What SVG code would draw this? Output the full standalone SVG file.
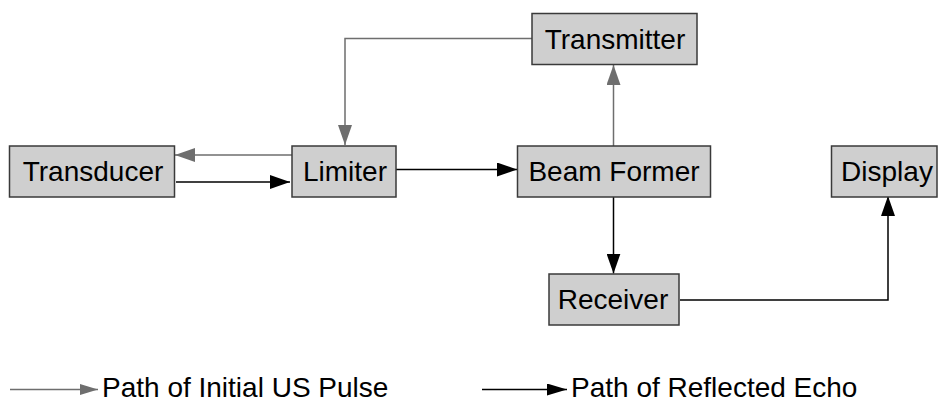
<svg xmlns="http://www.w3.org/2000/svg" width="940" height="403" viewBox="0 0 940 403">
  <style>
    .box { fill: #cfcfcf; stroke: #3a3a3a; stroke-width: 1.5; }
    .lbl { font-family: "Liberation Sans", Arial, sans-serif; font-size: 28px; fill: #000; text-anchor: middle; }
    .leg { font-family: "Liberation Sans", Arial, sans-serif; font-size: 28px; fill: #000; }
    .pulse { fill: none; stroke: #6e6e6e; stroke-width: 1.5; }
    .echo { fill: none; stroke: #000; stroke-width: 1.5; }
  </style>
  <defs>
    <marker id="headGray" markerWidth="20" markerHeight="14" refX="20" refY="7" orient="auto" markerUnits="userSpaceOnUse">
      <path d="M0,0 L20,7 L0,14 Z" fill="#6e6e6e"/>
    </marker>
    <marker id="headBlack" markerWidth="20" markerHeight="14" refX="20" refY="7" orient="auto" markerUnits="userSpaceOnUse">
      <path d="M0,0 L20,7 L0,14 Z" fill="#000"/>
    </marker>
    <marker id="legGray" markerWidth="18" markerHeight="11" refX="18" refY="5.5" orient="auto" markerUnits="userSpaceOnUse">
      <path d="M0,0 L18,5.5 L0,11 Z" fill="#6e6e6e"/>
    </marker>
    <marker id="legBlack" markerWidth="20" markerHeight="12" refX="20" refY="6" orient="auto" markerUnits="userSpaceOnUse">
      <path d="M0,0 L20,6 L0,12 Z" fill="#000"/>
    </marker>
  </defs>

  <!-- connectors -->
  <g id="connectors">
    <path class="pulse" d="M292,155 H175" marker-end="url(#headGray)"/>
    <path class="echo" d="M176,182 H290" marker-end="url(#headBlack)"/>
    <path class="pulse" d="M532,38.5 H345 V145" marker-end="url(#headGray)"/>
    <path class="echo" d="M396,169.5 H517" marker-end="url(#headBlack)"/>
    <path class="pulse" d="M613.5,146 V65" marker-end="url(#headGray)"/>
    <path class="echo" d="M613.5,197 V273.5" marker-end="url(#headBlack)"/>
    <path class="echo" d="M680,300 H888 V196" marker-end="url(#headBlack)"/>
  </g>

  <!-- blocks -->
  <g id="transducer">
    <rect class="box" x="9.5" y="146" width="165" height="51"/>
    <text class="lbl" x="93" y="181">Transducer</text>
  </g>
  <g id="limiter">
    <rect class="box" x="292" y="146" width="104" height="51"/>
    <text class="lbl" x="345" y="181">Limiter</text>
  </g>
  <g id="transmitter">
    <rect class="box" x="532" y="13.5" width="165" height="51"/>
    <text class="lbl" x="615" y="49">Transmitter</text>
  </g>
  <g id="beam-former">
    <rect class="box" x="517.5" y="146" width="193" height="51"/>
    <text class="lbl" x="614" y="181">Beam Former</text>
  </g>
  <g id="display">
    <rect class="box" x="831.5" y="146" width="105.5" height="51"/>
    <text class="lbl" x="887" y="181">Display</text>
  </g>
  <g id="receiver">
    <rect class="box" x="549" y="274" width="130" height="51"/>
    <text class="lbl" x="613" y="309">Receiver</text>
  </g>

  <!-- legend -->
  <g id="legend">
    <path class="pulse" d="M10,389.5 H98" marker-end="url(#legGray)"/>
    <text class="leg" x="102" y="397">Path of Initial US Pulse</text>
    <path class="echo" d="M482,389.5 H567" marker-end="url(#legBlack)"/>
    <text class="leg" x="571" y="397">Path of Reflected Echo</text>
  </g>
</svg>
